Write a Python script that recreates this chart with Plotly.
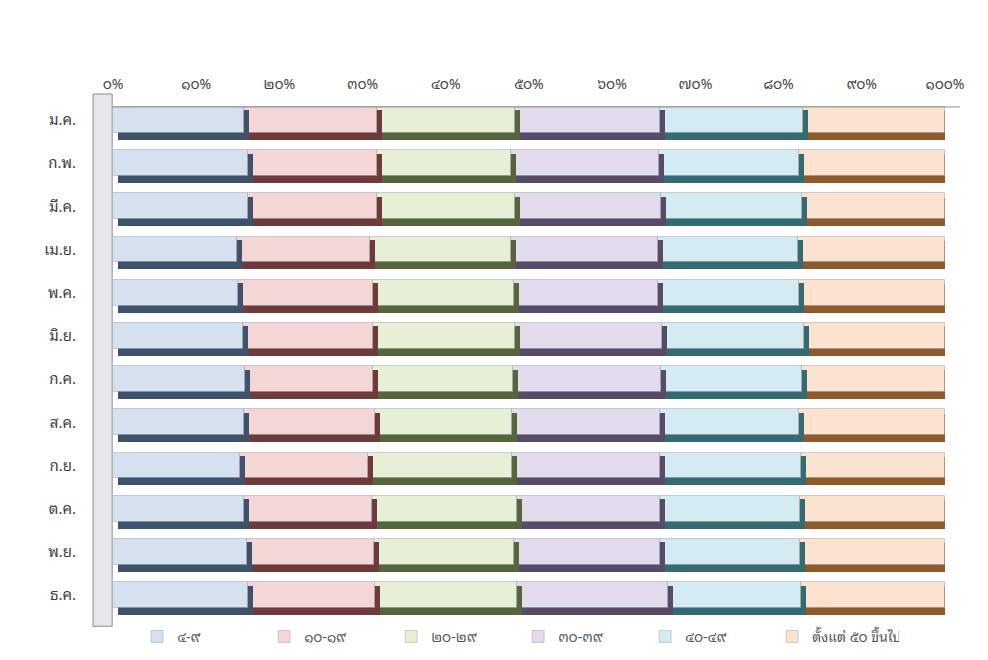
import numpy as np
import plotly.graph_objects as go

months = ["ม.ค.", "ก.พ.", "มี.ค.", "เม.ย.", "พ.ค.", "มิ.ย.",
          "ก.ค.", "ส.ค.", "ก.ย.", "ต.ค.", "พ.ย.", "ธ.ค."]

series_names = ["๔-๙", "๑๐-๑๙", "๒๐-๒๙", "๓๐-๓๙", "๔๐-๔๙", "ตั้งแต่ ๕๐ ขึ้นไป"]

age_4_9   = [15.8, 16.2, 16.2, 14.9, 15.0, 15.6, 15.9, 15.7, 15.3, 15.7, 16.1, 16.2]
age_10_19 = [15.9, 15.5, 15.5, 16.0, 16.3, 15.7, 15.4, 15.8, 15.3, 15.4, 15.3, 15.3]
age_20_29 = [16.6, 16.1, 16.6, 16.9, 16.9, 17.0, 16.8, 16.5, 17.4, 17.5, 16.8, 17.1]
age_30_39 = [17.5, 17.7, 17.6, 17.7, 17.3, 17.7, 17.8, 17.7, 17.7, 17.1, 17.5, 18.1]
age_40_49 = [17.1, 16.9, 16.9, 16.8, 17.0, 17.1, 16.9, 16.8, 17.0, 16.9, 16.9, 16.0]
age_50_up = [17.1, 17.5, 17.2, 17.7, 17.5, 16.9, 17.2, 17.5, 17.3, 17.4, 17.4, 17.3]

tick_vals = [0, 10, 20, 30, 40, 50, 60, 70, 80, 90, 100]
tick_text = ["๐%", "๑๐%", "๒๐%", "๓๐%", "๔๐%", "๕๐%", "๖๐%", "๗๐%", "๘๐%", "๙๐%", "๑๐๐%"]

face_colors = ["#d6e1ef", "#f3d6d5", "#e7efd6", "#e2dcec", "#d5ebf2", "#fce3cf"]
side_colors = ["#3e536b", "#6e3b3a", "#56653c", "#574b68", "#346a72", "#8e5a2c"]

data = np.array([age_4_9, age_10_19, age_20_29, age_30_39, age_40_49, age_50_up], dtype=float)
pct = data / data.sum(axis=0) * 100.0
bases = np.vstack([np.zeros(len(months)), np.cumsum(pct, axis=0)[:-1]])

FONT = "'Noto Sans Thai Looped', Tahoma, Loma, Garuda, Waree, 'Noto Sans Thai', 'DejaVu Sans', sans-serif"

fig = go.Figure()

# base "shadow" of each segment (bottom + right depth)
for i in range(6):
    fig.add_trace(go.Bar(
        y=months, x=pct[i], base=bases[i] + 0.6, orientation="h",
        width=0.66, offset=-0.2,
        marker=dict(color=side_colors[i], line=dict(width=0)),
        showlegend=False, hoverinfo="skip"))

# front faces
for i in range(6):
    fig.add_trace(go.Bar(
        y=months, x=pct[i], base=bases[i], orientation="h",
        width=0.6, offset=-0.3, name=series_names[i],
        marker=dict(color=face_colors[i], line=dict(width=1, color="rgba(120,130,140,0.35)"))))

# side depth strip at right end of each segment
for i in range(5):
    fig.add_trace(go.Bar(
        y=months, x=[0.6] * len(months), base=bases[i] + pct[i], orientation="h",
        width=0.66, offset=-0.22,
        marker=dict(color=side_colors[i], line=dict(width=0)),
        showlegend=False, hoverinfo="skip"))

fig.update_layout(
    width=988, height=660,
    barmode="overlay",
    paper_bgcolor="white", plot_bgcolor="white",
    margin=dict(l=105, r=51, t=86, b=47),
    font=dict(family=FONT, size=14, color="#404040"),
    xaxis=dict(range=[0, 100], side="top", tickvals=tick_vals, ticktext=tick_text,
               showgrid=False, zeroline=False, showline=False, ticks="",
               automargin=False, ticklabelstandoff=1,
               tickfont=dict(size=14, color="#404040")),
    yaxis=dict(range=[11.6, -0.6], showgrid=False, zeroline=False,
               showline=False, ticks="", ticklabelstandoff=36, automargin=False,
               tickfont=dict(size=15, color="#404040")),
    legend=dict(orientation="h", x=0.029, xanchor="left", y=-0.03, yanchor="middle",
                font=dict(size=14, color="#555555"), traceorder="normal",
                itemwidth=30, entrywidth=82, bgcolor="rgba(0,0,0,0)"),
    bargap=0,
)

# side wall of the 3D chart
fig.add_shape(type="rect", xref="paper", yref="paper",
              x0=-0.024, x1=-0.001, y0=-0.01, y1=1.0,
              line=dict(color="#8c8c8c", width=1), fillcolor="#e4e6ea", layer="below")
fig.add_shape(type="line", xref="paper", yref="y",
              x0=-0.001, x1=1.018, y0=-0.3, y1=-0.3,
              line=dict(color="#8c8c8c", width=1))

fig.write_html("out.html")
